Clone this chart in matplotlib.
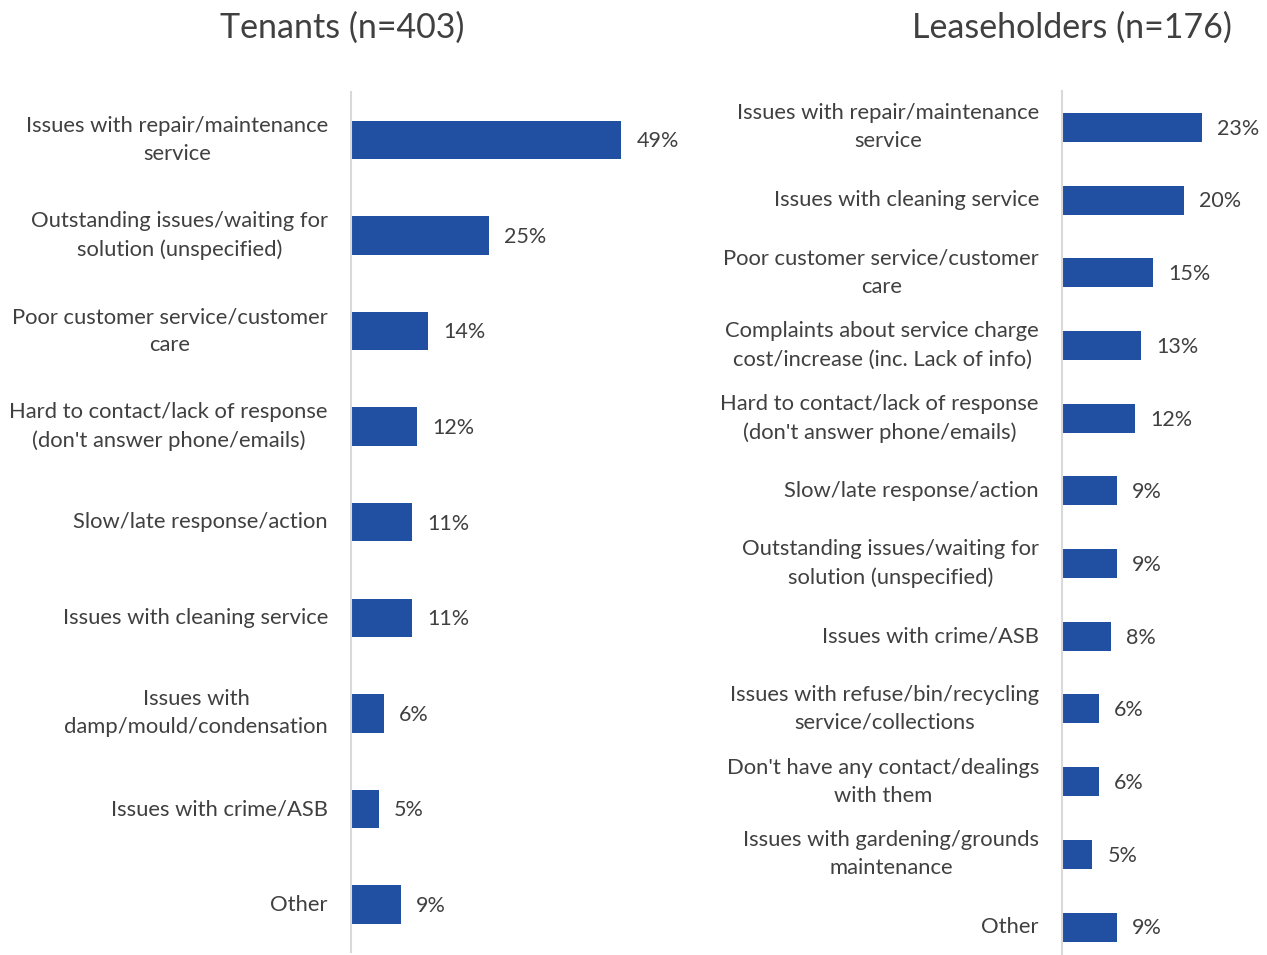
import matplotlib
matplotlib.use("Agg")
import matplotlib.pyplot as plt
import matplotlib.transforms as mtransforms

tenant_cats = [
    "Issues with repair/maintenance\nservice",
    "Outstanding issues/waiting for\nsolution (unspecified)",
    "Poor customer service/customer\ncare",
    "Hard to contact/lack of response\n(don't answer phone/emails)",
    "Slow/late response/action",
    "Issues with cleaning service",
    "Issues with\ndamp/mould/condensation",
    "Issues with crime/ASB",
    "Other",
]
tenant_vals = [49, 25, 14, 12, 11, 11, 6, 5, 9]

lease_cats = [
    "Issues with repair/maintenance\nservice",
    "Issues with cleaning service",
    "Poor customer service/customer\ncare",
    "Complaints about service charge\ncost/increase (inc. Lack of info)",
    "Hard to contact/lack of response\n(don't answer phone/emails)",
    "Slow/late response/action",
    "Outstanding issues/waiting for\nsolution (unspecified)",
    "Issues with crime/ASB",
    "Issues with refuse/bin/recycling\nservice/collections",
    "Don't have any contact/dealings\nwith them",
    "Issues with gardening/grounds\nmaintenance",
    "Other",
]
lease_vals = [23, 20, 15, 13, 12, 9, 9, 8, 6, 6, 5, 9]

titles = ["Tenants (n=403)", "Leaseholders (n=176)"]

W, H = 1267, 955
BLUE = "#2150A3"
TXT = "#404040"
FONT = "Lato"

fig = plt.figure(figsize=(W / 100, H / 100), dpi=100)


def px_axes(x0, y_top, w, h):
    return fig.add_axes([x0 / W, 1 - (y_top + h) / H, w / W, h / H])


def draw(ax, cats, vals, xmax, title, title_x, label_right):
    n = len(cats)
    y = list(range(n))
    ax.barh(y, vals, height=0.4, color=BLUE)
    ax.set_ylim(n - 0.5, -0.5)
    ax.set_xlim(0, xmax)
    ax.set_yticks([])
    ax.set_xticks([])
    for s in ["top", "right", "bottom"]:
        ax.spines[s].set_visible(False)
    ax.spines["left"].set_color("#d9d9d9")
    ax.spines["left"].set_linewidth(1.5)
    trans = mtransforms.blended_transform_factory(fig.transFigure, ax.transData)
    for yi, c in zip(y, cats):
        ax.text(label_right / W, yi, c, transform=trans, ha="right", va="center",
                multialignment="center", fontsize=15.8, color=TXT, family=FONT,
                linespacing=1.5)
    for yi, v in zip(y, vals):
        ax.annotate(f"{v}%", (v, yi), xytext=(11, -1), textcoords="offset points",
                    va="center", ha="left", fontsize=15.5, color=TXT, family=FONT)
    fig.text(title_x / W, 1 - 28 / H, title, ha="center", va="center",
             fontsize=24.5, color=TXT, family=FONT)
    return ax


ax1 = px_axes(351, 92, 60 * 5.51, 9 * 95.6)
draw(ax1, tenant_cats, tenant_vals, 60, titles[0], 342, 328)

ax2 = px_axes(1062, 91, 30 * 6.09, 12 * 72.7)
draw(ax2, lease_cats, lease_vals, 30, titles[1], 1072, 1039)

fig.savefig("out.png", dpi=100)
